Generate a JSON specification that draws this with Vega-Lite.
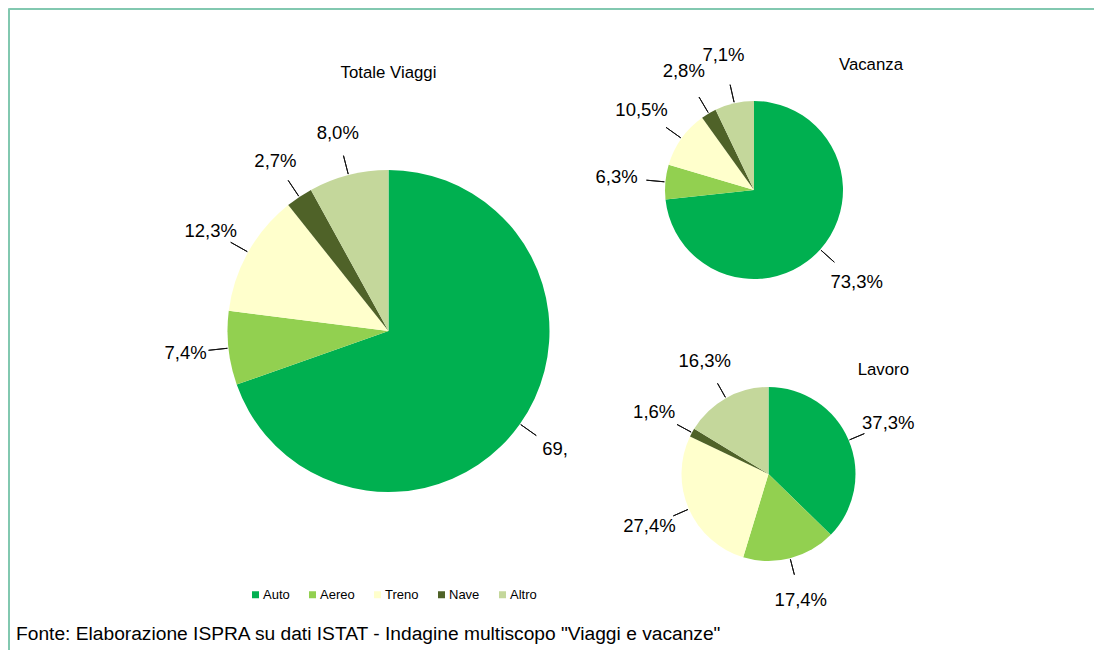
{
  "$schema": "https://vega.github.io/schema/vega-lite/v6.json",
  "padding": {"left": 7, "top": 7, "right": 0, "bottom": 0},
  "background": "white",
  "config": {
    "view": {"stroke": null},
    "font": "Liberation Sans",
    "title": {"font": "Liberation Sans", "fontWeight": "normal", "color": "#000000"}
  },
  "datasets": {
    "quote": [
      {"panel": "Totale Viaggi", "cat": "Auto", "v": 69.6, "label": "69,"},
      {"panel": "Totale Viaggi", "cat": "Aereo", "v": 7.4, "label": "7,4%"},
      {"panel": "Totale Viaggi", "cat": "Treno", "v": 12.3, "label": "12,3%"},
      {"panel": "Totale Viaggi", "cat": "Nave", "v": 2.7, "label": "2,7%"},
      {"panel": "Totale Viaggi", "cat": "Altro", "v": 8.0, "label": "8,0%"},
      {"panel": "Vacanza", "cat": "Auto", "v": 73.3, "label": "73,3%"},
      {"panel": "Vacanza", "cat": "Aereo", "v": 6.3, "label": "6,3%"},
      {"panel": "Vacanza", "cat": "Treno", "v": 10.5, "label": "10,5%"},
      {"panel": "Vacanza", "cat": "Nave", "v": 2.8, "label": "2,8%"},
      {"panel": "Vacanza", "cat": "Altro", "v": 7.1, "label": "7,1%"},
      {"panel": "Lavoro", "cat": "Auto", "v": 37.3, "label": "37,3%"},
      {"panel": "Lavoro", "cat": "Aereo", "v": 17.4, "label": "17,4%"},
      {"panel": "Lavoro", "cat": "Treno", "v": 27.4, "label": "27,4%"},
      {"panel": "Lavoro", "cat": "Nave", "v": 1.6, "label": "1,6%"},
      {"panel": "Lavoro", "cat": "Altro", "v": 16.3, "label": "16,3%"}
    ]
  },
  "spacing": 0,
  "bounds": "flush",
  "hconcat": [
    {
      "width": 1,
      "height": 642,
      "data": {"values": []},
      "mark": {"type": "rect", "opacity": 0},
      "view": {"stroke": "#82C8B0", "strokeWidth": 1}
    },
    {
      "spacing": 92,
      "bounds": "flush",
      "title": {
        "text": "Fonte: Elaborazione ISPRA su dati ISTAT - Indagine multiscopo \"Viaggi e vacanze\"",
        "orient": "bottom",
        "anchor": "start",
        "frame": "group",
        "offset": 31,
        "baseline": "alphabetic",
        "dx": 7,
        "fontSize": 19.2,
        "font": "Liberation Sans"
      },
      "vconcat": [
        {
          "width": 1085,
          "height": 1,
          "data": {"values": []},
          "mark": {"type": "rect", "opacity": 0},
          "view": {"stroke": "#82C8B0", "strokeWidth": 1}
        },
        {
          "spacing": 115.5,
          "bounds": "flush",
          "hconcat": [
            {
              "width": 102.5,
              "height": 1,
              "data": {"values": []},
              "mark": {"type": "rect", "opacity": 0}
            },
            {
              "width": 322,
              "height": 460,
              "data": {"name": "quote"},
              "title": {"text": "Totale Viaggi", "fontSize": 16.8, "offset": 6, "baseline": "alphabetic", "anchor": "middle", "frame": "group"},
              "transform": [
                {"filter": {"field": "panel", "equal": "Totale Viaggi"}},
                {"window": [{"op": "row_number", "as": "idx"}]}
              ],
              "layer": [
                {
                  "mark": {"type": "arc"},
                  "encoding": {
                    "theta": {"field": "v", "type": "quantitative", "stack": true, "scale": {"domain": [0, 100]}},
                    "order": {"field": "idx", "type": "quantitative"},
                    "color": {
                      "field": "cat", "type": "nominal",
                      "scale": {"domain": ["Auto", "Aereo", "Treno", "Nave", "Altro"], "range": ["#00B050", "#92D050", "#FFFFCC", "#4F6228", "#C4D79B"]},
                      "legend": {"orient": "none", "legendX": 241, "legendY": 580, "direction": "horizontal", "title": null, "symbolType": "square", "symbolSize": 49, "symbolStrokeWidth": 0, "labelFontSize": 13, "labelFont": "Liberation Sans", "labelColor": "#000000", "columnPadding": 16, "labelOffset": 1, "padding": 0}
                    }
                  }
                },
                {
                  "transform": [
                    {"stack": "v", "groupby": [], "sort": [{"field": "idx", "order": "ascending"}], "as": ["v0", "v1"]},
                    {"fold": ["v0", "v1"], "as": ["k", "a"]},
                    {"aggregate": [{"op": "mean", "field": "a", "as": "mid"}], "groupby": ["cat"]}
                  ],
                  "mark": {"type": "arc", "filled": false, "innerRadius": 162, "outerRadius": 181, "stroke": "#111111", "strokeWidth": 1},
                  "encoding": {
                    "theta": {"field": "mid", "type": "quantitative", "scale": {"domain": [0, 100]}},
                    "theta2": {"field": "mid"}
                  }
                },
                {
                  "mark": {"type": "text", "radius": 204, "fontSize": 18.5, "color": "#000000", "baseline": "middle"},
                  "encoding": {
                    "theta": {"field": "v", "type": "quantitative", "stack": true, "scale": {"domain": [0, 100]}},
                    "order": {"field": "idx", "type": "quantitative"},
                    "text": {"field": "label"}
                  }
                }
              ]
            },
            {
              "spacing": 108,
              "bounds": "flush",
              "vconcat": [
                {
                  "width": 178,
                  "height": 178,
                  "data": {"name": "quote"},
                  "title": {"text": "Vacanza", "fontSize": 16.8, "offset": -40, "baseline": "alphabetic", "anchor": "end", "frame": "group", "dx": 60},
                  "transform": [
                    {"filter": {"field": "panel", "equal": "Vacanza"}},
                    {"window": [{"op": "row_number", "as": "idx"}]}
                  ],
                  "layer": [
                    {
                      "mark": {"type": "arc"},
                      "encoding": {
                        "theta": {"field": "v", "type": "quantitative", "stack": true, "scale": {"domain": [0, 100]}},
                        "order": {"field": "idx", "type": "quantitative"},
                        "color": {"field": "cat", "type": "nominal"}
                      }
                    },
                    {
                      "transform": [
                        {"stack": "v", "groupby": [], "sort": [{"field": "idx", "order": "ascending"}], "as": ["v0", "v1"]},
                        {"fold": ["v0", "v1"], "as": ["k", "a"]},
                        {"aggregate": [{"op": "mean", "field": "a", "as": "mid"}], "groupby": ["cat"]}
                      ],
                      "mark": {"type": "arc", "filled": false, "innerRadius": 90, "outerRadius": 108, "stroke": "#111111", "strokeWidth": 1},
                      "encoding": {
                        "theta": {"field": "mid", "type": "quantitative", "scale": {"domain": [0, 100]}},
                        "theta2": {"field": "mid"}
                      }
                    },
                    {
                      "mark": {"type": "text", "radius": 138, "fontSize": 18.5, "color": "#000000", "baseline": "middle"},
                      "encoding": {
                        "theta": {"field": "v", "type": "quantitative", "stack": true, "scale": {"domain": [0, 100]}},
                        "order": {"field": "idx", "type": "quantitative"},
                        "text": {"field": "label"}
                      }
                    }
                  ]
                },
                {
                  "width": 207,
                  "height": 174,
                  "data": {"name": "quote"},
                  "title": {"text": "Lavoro", "fontSize": 16.8, "offset": -40, "baseline": "alphabetic", "anchor": "end", "frame": "group", "dx": 37},
                  "transform": [
                    {"filter": {"field": "panel", "equal": "Lavoro"}},
                    {"window": [{"op": "row_number", "as": "idx"}]}
                  ],
                  "layer": [
                    {
                      "mark": {"type": "arc"},
                      "encoding": {
                        "theta": {"field": "v", "type": "quantitative", "stack": true, "scale": {"domain": [0, 100]}},
                        "order": {"field": "idx", "type": "quantitative"},
                        "color": {"field": "cat", "type": "nominal"}
                      }
                    },
                    {
                      "transform": [
                        {"stack": "v", "groupby": [], "sort": [{"field": "idx", "order": "ascending"}], "as": ["v0", "v1"]},
                        {"fold": ["v0", "v1"], "as": ["k", "a"]},
                        {"aggregate": [{"op": "mean", "field": "a", "as": "mid"}], "groupby": ["cat"]}
                      ],
                      "mark": {"type": "arc", "filled": false, "innerRadius": 88, "outerRadius": 104, "stroke": "#111111", "strokeWidth": 1},
                      "encoding": {
                        "theta": {"field": "mid", "type": "quantitative", "scale": {"domain": [0, 100]}},
                        "theta2": {"field": "mid"}
                      }
                    },
                    {
                      "mark": {"type": "text", "radius": 130, "fontSize": 18.5, "color": "#000000", "baseline": "middle"},
                      "encoding": {
                        "theta": {"field": "v", "type": "quantitative", "stack": true, "scale": {"domain": [0, 100]}},
                        "order": {"field": "idx", "type": "quantitative"},
                        "text": {"field": "label"}
                      }
                    }
                  ]
                }
              ]
            }
          ]
        }
      ]
    }
  ]
}
